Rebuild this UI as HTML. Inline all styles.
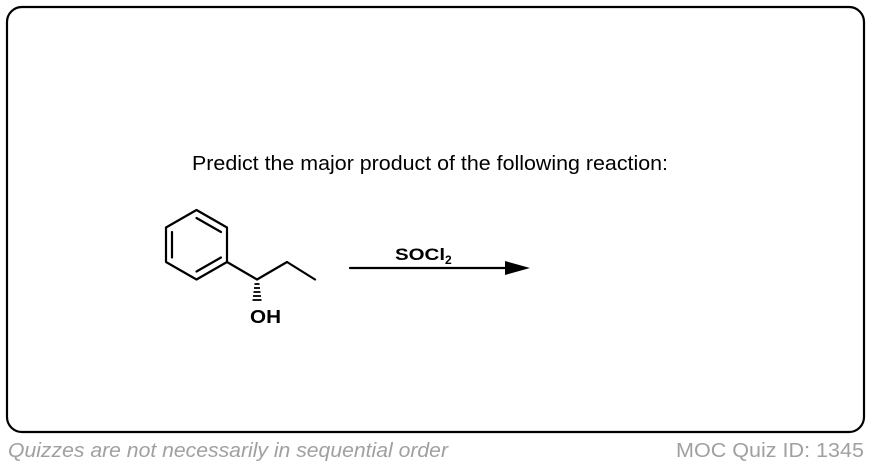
<!DOCTYPE html>
<html><head><style>
html,body{margin:0;padding:0;background:#fff;width:872px;height:464px;overflow:hidden;font-family:"Liberation Sans",Arial,sans-serif}
</style></head><body>
<svg width="872" height="464" viewBox="0 0 872 464" xmlns="http://www.w3.org/2000/svg">
<rect x="7" y="7" width="857" height="425" rx="15" fill="#fff" stroke="#000" stroke-width="2.2"/>
<text x="192" y="170" font-size="20.5" textLength="476" lengthAdjust="spacingAndGlyphs" font-family="Liberation Sans,Arial,sans-serif">Predict the major product of the following reaction:</text>
<g stroke="#000" stroke-width="2.2" fill="none" stroke-linecap="round" stroke-linejoin="round">
<polygon points="196.5,210 227,227.5 227,262 196.5,279.5 166,262 166,227.5"/>
<line x1="196.5" y1="218" x2="221" y2="232"/>
<line x1="221" y1="257.5" x2="196.5" y2="271.5"/>
<line x1="172" y1="232" x2="172" y2="257.5"/>
<polyline points="227,262 257,279.5 287,262 315,279.5"/>
<line x1="350" y1="268" x2="510" y2="268"/>
</g>
<polygon points="530,268 505,261 505,275" fill="#000"/>
<g stroke="#000" stroke-width="1.8">
<line x1="254.5" y1="284" x2="259.5" y2="284"/>
<line x1="254" y1="288" x2="260" y2="288"/>
<line x1="253.5" y1="292" x2="260.5" y2="292"/>
<line x1="253" y1="296" x2="261" y2="296"/>
<line x1="252.5" y1="300" x2="261.5" y2="300"/>
</g>
<text x="250" y="323" font-size="18" font-weight="bold" textLength="31" lengthAdjust="spacingAndGlyphs" font-family="Liberation Sans,Arial,sans-serif">OH</text>
<text x="395" y="260" font-size="17" font-weight="bold" font-family="Liberation Sans,Arial,sans-serif"><tspan textLength="50" lengthAdjust="spacingAndGlyphs">SOCl</tspan><tspan font-size="12" dy="4">2</tspan></text>
<text x="8" y="457" font-size="20" font-style="italic" fill="#a0a0a0" textLength="440" lengthAdjust="spacingAndGlyphs" font-family="Liberation Sans,Arial,sans-serif">Quizzes are not necessarily in sequential order</text>
<text x="676" y="457" font-size="20" fill="#a0a0a0" textLength="188" lengthAdjust="spacingAndGlyphs" font-family="Liberation Sans,Arial,sans-serif">MOC Quiz ID: 1345</text>
</svg>
</body></html>
